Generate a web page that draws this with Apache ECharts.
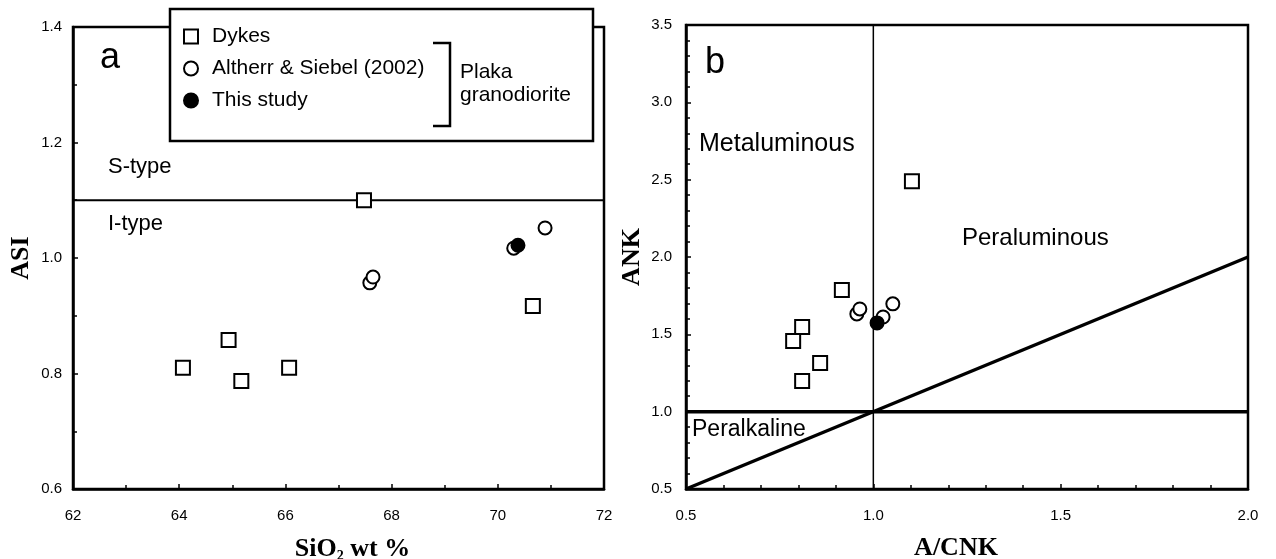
<!DOCTYPE html>
<html>
<head>
<meta charset="utf-8">
<script src="https://cdn.jsdelivr.net/npm/echarts@6/dist/echarts.min.js"></script>
<style>
  html, body { margin: 0; padding: 0; background: #fff; }
  #chart { width: 1276px; height: 559px; }
</style>
</head>
<body>
<div id="chart"></div>
<script>
// panel a: SiO2 vs ASI
const dykesSiO2 = [64.07, 64.93, 65.17, 66.07, 67.48, 70.66];
const dykesASI = [0.81, 0.858, 0.787, 0.81, 1.1, 0.917];
const altherrSiO2 = [67.59, 67.65, 70.3, 70.89];
const altherrASI = [0.957, 0.967, 1.017, 1.052];
const studySiO2 = [70.38];
const studyASI = [1.022];
const typeBoundary = [[62, 1.1], [72, 1.1]];

// panel b: A/CNK vs ANK
const dykesACNK = [1.103, 0.916, 0.81, 0.786, 0.858, 0.81];
const dykesANK = [2.49, 1.787, 1.548, 1.457, 1.315, 1.199];
const altherrACNK = [0.956, 0.964, 1.026, 1.052];
const altherrANK = [1.632, 1.664, 1.612, 1.697];
const studyACNK = [1.01];
const studyANK = [1.574];
const acnkOneLine = [[1, 0.5], [1, 3.5]];
const ankOneLine = [[0.5, 1], [2, 1]];
const equalLine = [[0.5, 0.5], [2, 2]];

const legendNames = ['Dykes', 'Altherr & Siebel (2002)', 'This study'];

const sans = '"Liberation Sans", Arial, sans-serif';
const serif = '"Liberation Serif", "Times New Roman", serif';

const zip = (xs, ys) => xs.map((x, i) => [x, ys[i]]);

const chart = echarts.init(document.getElementById('chart'), null, { renderer: 'canvas' });

function valueAxis(gridIndex, min, max, interval, minorSplit, digits, extra) {
  return Object.assign({
    type: 'value',
    gridIndex: gridIndex,
    min: min,
    max: max,
    interval: interval,
    splitLine: { show: false },
    axisLine: { show: true, onZero: false, lineStyle: { color: '#000', width: 2.5 } },
    axisTick: { show: true, inside: true, length: 5, lineStyle: { color: '#000', width: 1.5 } },
    minorTick: { show: true, splitNumber: minorSplit, length: 4, lineStyle: { color: '#000', width: 1.5 } },
    axisLabel: {
      color: '#000',
      fontFamily: sans,
      fontSize: 15,
      formatter: (v) => digits ? v.toFixed(digits) : String(v)
    },
    nameLocation: 'middle',
    nameTextStyle: {
      color: '#000',
      fontFamily: serif,
      fontWeight: 'bold',
      fontSize: 26
    }
  }, extra);
}

function lineSeries(x, y, data, width) {
  return {
    type: 'line',
    xAxisIndex: x,
    yAxisIndex: y,
    data: data,
    symbol: 'none',
    silent: true,
    lineStyle: { color: '#000', width: width },
    z: 1
  };
}

function scatterSeries(name, x, y, data, symbol, size, fill) {
  return {
    name: name,
    type: 'scatter',
    xAxisIndex: x,
    yAxisIndex: y,
    data: data,
    symbol: symbol,
    symbolSize: size,
    itemStyle: { color: fill, borderColor: '#000', borderWidth: 2, opacity: 1 },
    z: 3
  };
}

function label(text, x, y, size) {
  return {
    type: 'text',
    x: x,
    y: y,
    z: 10,
    style: {
      text: text,
      fill: '#000',
      font: size + 'px ' + sans,
      verticalAlign: 'middle'
    }
  };
}

const option = {
  animation: false,
  backgroundColor: '#fff',
  grid: [
    { left: 73, right: 672, top: 27, bottom: 70, outerBoundsMode: 'none', containLabel: false,
      show: true, borderColor: '#000', borderWidth: 2.5 },
    { left: 686, right: 28, top: 25, bottom: 70, outerBoundsMode: 'none', containLabel: false,
      show: true, borderColor: '#000', borderWidth: 2.5 }
  ],
  xAxis: [
    valueAxis(0, 62, 72, 2, 2, 0, {
      name: 'SiO{sub|2} wt %',
      nameGap: 46,
      axisLabel: { color: '#000', fontFamily: sans, fontSize: 15, margin: 19 },
      nameTextStyle: {
        color: '#000', fontFamily: serif, fontWeight: 'bold', fontSize: 26,
        padding: [0, 0, 0, 28],
        rich: { sub: { fontFamily: serif, fontWeight: 'bold', fontSize: 14, verticalAlign: 'bottom', padding: [14, 0, 0, 0] } }
      }
    }),
    valueAxis(1, 0.5, 2.0, 0.5, 5, 1, {
      name: 'A/CNK',
      nameGap: 46,
      axisLabel: { color: '#000', fontFamily: sans, fontSize: 15, margin: 19, formatter: (v) => v.toFixed(1) },
      nameTextStyle: { color: '#000', fontFamily: serif, fontWeight: 'bold', fontSize: 26, padding: [0, 22, 0, 0] }
    })
  ],
  yAxis: [
    valueAxis(0, 0.6, 1.4, 0.2, 2, 1, {
      name: 'ASI', nameGap: 39,
      axisLabel: { color: '#000', fontFamily: sans, fontSize: 15, margin: 11, formatter: (v) => v.toFixed(1) }
    }),
    valueAxis(1, 0.5, 3.5, 0.5, 5, 1, {
      name: 'ANK', nameGap: 41,
      axisLabel: { color: '#000', fontFamily: sans, fontSize: 15, margin: 14, formatter: (v) => v.toFixed(1) }
    })
  ],
  legend: {
    data: legendNames,
    orient: 'vertical',
    left: 183,
    top: 26,
    itemWidth: 14,
    itemHeight: 14,
    itemGap: 11,
    selectedMode: false,
    z: 10,
    padding: 0,
    textStyle: { color: '#000', fontFamily: sans, fontSize: 21, lineHeight: 21, padding: [0, 0, 0, 9] }
  },
  graphic: [
    {
      type: 'rect',
      z: 5,
      shape: { x: 170, y: 9, width: 423, height: 132 },
      style: { fill: '#fff', stroke: '#000', lineWidth: 2.5 }
    },
    {
      type: 'polyline',
      z: 10,
      shape: { points: [[433, 43], [450, 43], [450, 126], [433, 126]] },
      style: { fill: null, stroke: '#000', lineWidth: 2.5 }
    },
    label('Plaka', 460, 72, 21),
    label('granodiorite', 460, 95, 21),
    label('a', 100, 58, 36),
    label('S-type', 108, 167, 22),
    label('I-type', 108, 224, 22),
    label('b', 705, 63, 36),
    label('Metaluminous', 699, 144, 25),
    label('Peraluminous', 962, 238, 24),
    label('Peralkaline', 692, 430, 23)
  ],
  series: [
    lineSeries(0, 0, typeBoundary, 2),
    lineSeries(1, 1, acnkOneLine, 1.5),
    lineSeries(1, 1, ankOneLine, 3.5),
    lineSeries(1, 1, equalLine, 3.5),
    scatterSeries('Dykes', 0, 0, zip(dykesSiO2, dykesASI), 'rect', 14, '#fff'),
    scatterSeries('Altherr & Siebel (2002)', 0, 0, zip(altherrSiO2, altherrASI), 'circle', 13, '#fff'),
    scatterSeries('This study', 0, 0, zip(studySiO2, studyASI), 'circle', 13, '#000'),
    scatterSeries('Dykes', 1, 1, zip(dykesACNK, dykesANK), 'rect', 14, '#fff'),
    scatterSeries('Altherr & Siebel (2002)', 1, 1, zip(altherrACNK, altherrANK), 'circle', 13, '#fff'),
    scatterSeries('This study', 1, 1, zip(studyACNK, studyANK), 'circle', 13, '#000')
  ]
};

chart.setOption(option);
</script>
</body>
</html>
